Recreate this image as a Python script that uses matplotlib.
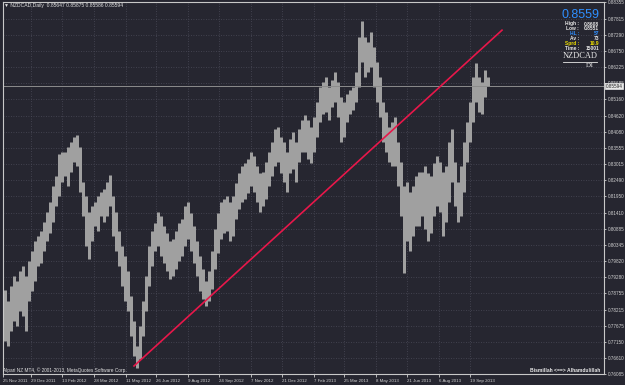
import matplotlib
matplotlib.use("Agg")
import numpy as np
import matplotlib.pyplot as plt

# NZDCAD daily, bars grouped by three (high / low)
bar_high = [
    .7885, .7849, .7898, .7931, .7915, .7948, .7964, .7931, .7981, .8014,
    .8047, .8063, .8080, .8112, .8145, .8178, .8228, .8261, .8336, .8343,
    .8343, .8359, .8376, .8392, .8399, .8359, .8244, .8195, .8145, .8162,
    .8178, .8195, .8211, .8218, .8244, .8267, .8195, .8145, .8080, .8030,
    .7997, .7948, .7865, .7783, .7701, .7767, .7849, .7931, .8030, .8080,
    .8106, .8145, .8129, .8096, .8073, .8047, .8053, .8080, .8106, .8119,
    .8162, .8178, .8139, .8096, .8047, .7997, .7954, .7915, .7948, .8014,
    .8086, .8139, .8178, .8185, .8195, .8178, .8195, .8238, .8271, .8294,
    .8304, .8317, .8343, .8327, .8294, .8271, .8277, .8310, .8343, .8376,
    .8416, .8425, .8392, .8376, .8343, .8383, .8409, .8376, .8416, .8448,
    .8465, .8448, .8425, .8458, .8508, .8557, .8574, .8590, .8557, .8580,
    .8607, .8574, .8524, .8508, .8534, .8547, .8557, .8607, .8722, .8775,
    .8722, .8705, .8738, .8689, .8640, .8590, .8508, .8475, .8425, .8442,
    .8458, .8376, .8310, .8228, .8244, .8211, .8228, .8261, .8277, .8277,
    .8294, .8271, .8261, .8304, .8327, .8310, .8277, .8294, .8376, .8419,
    .8310, .8244, .8294, .8376, .8442, .8508, .8590, .8636, .8590, .8574,
    .8613, .8588,
]
bar_low = [
    .7717, .7701, .7750, .7783, .7767, .7816, .7800, .7750, .7849, .7882,
    .7915, .7964, .7974, .8014, .8047, .8073, .8112, .8162, .8195, .8244,
    .8261, .8228, .8277, .8310, .8294, .8211, .8129, .8030, .7987, .8047,
    .8096, .8080, .8129, .8112, .8129, .8162, .8063, .8014, .7964, .7898,
    .7849, .7816, .7734, .7668, .7628, .7658, .7734, .7816, .7898, .7964,
    .8014, .8030, .7997, .7974, .7948, .7921, .7931, .7954, .7981, .7997,
    .8030, .8053, .8014, .7974, .7931, .7882, .7855, .7832, .7849, .7888,
    .7954, .8007, .8053, .8073, .8080, .8047, .8063, .8119, .8152, .8178,
    .8185, .8205, .8228, .8211, .8178, .8145, .8162, .8185, .8228, .8261,
    .8294, .8310, .8271, .8244, .8211, .8271, .8284, .8244, .8310, .8343,
    .8343, .8317, .8304, .8343, .8392, .8442, .8468, .8475, .8448, .8491,
    .8508, .8458, .8376, .8392, .8442, .8468, .8481, .8508, .8557, .8640,
    .8590, .8607, .8623, .8557, .8508, .8458, .8376, .8343, .8310, .8294,
    .8294, .8228, .8129, .7941, .8047, .8014, .8063, .8096, .8096, .8129,
    .8086, .8047, .8073, .8129, .8162, .8145, .8063, .8112, .8178, .8244,
    .8162, .8112, .8129, .8211, .8310, .8376, .8442, .8508, .8475, .8468,
    .8524, .8559,
]
bars_per_group = 3

last_price = 0.85594
trend_bar = [131, 499]
trend_price = [0.7635, 0.8744]

price_ticks = [0.88355, 0.87815, 0.87290, 0.86750, 0.86225, 0.85685, 0.85160,
               0.84620, 0.84080, 0.83555, 0.83015, 0.82490, 0.81950, 0.81410,
               0.80885, 0.80345, 0.79820, 0.79280, 0.78755, 0.78215, 0.77675,
               0.77150, 0.76610, 0.76085]
date_bars = [0, 28, 59, 91, 123, 153, 185, 216, 248, 279, 311, 341, 373, 404, 436, 467]
date_labels = ["25 Nov 2011", "29 Dec 2011", "13 Feb 2012", "28 Mar 2012",
               "11 May 2012", "26 Jun 2012", "9 Aug 2012", "24 Sep 2012",
               "7 Nov 2012", "21 Dec 2012", "7 Feb 2013", "25 Mar 2013",
               "8 May 2013", "21 Jun 2013", "6 Aug 2013", "19 Sep 2013"]

bg = "#262630"
fg = "#d0d0d0"
fam = ["Liberation Sans", "DejaVu Sans"]

W, H = 625, 385
fig = plt.figure(figsize=(W / 100, H / 100), dpi=100)
fig.patch.set_facecolor(bg)
ax = fig.add_axes([3 / W, 1 - 374 / H, 601 / W, 372 / H])
ax.set_facecolor(bg)

x = np.arange(len(bar_high)) * bars_per_group + bars_per_group / 2
ax.vlines(x, bar_low, bar_high, color="#a0a0a0", linewidth=2.16)
ax.axhline(last_price, color="#8c8c8c", linewidth=0.7)
ax.plot(trend_bar, trend_price, color="#e8174a", linewidth=1.2)

ax.set_xlim(0, 601)
ax.set_ylim(0.76085, 0.8837)

ax.set_yticks(price_ticks)
ax.set_yticklabels([f"{p:.5f}" for p in price_ticks])
ax.yaxis.tick_right()
ax.set_xticks(date_bars)
ax.set_xticklabels(date_labels, ha="left")
ax.tick_params(axis="x", colors=fg, length=2, width=0.6, pad=1.5)
ax.tick_params(axis="y", colors=fg, length=1.5, width=0.6, pad=1)
for lab in ax.get_yticklabels():
    lab.set_family(fam)
    lab.set_fontsize(3.3)
for lab in ax.get_xticklabels():
    lab.set_family(fam)
    lab.set_fontsize(3.2)
ax.grid(True, color="#4a4a58", linestyle=(0, (1, 2)), linewidth=0.6)
for s in ax.spines.values():
    s.set_color("#c8c8c8")
    s.set_linewidth(0.8)

# current price box on the axis
ax.text(1.003, last_price, f"{last_price:.5f}", transform=ax.get_yaxis_transform(),
        va="center", ha="left", fontsize=3.3, family=fam, color="#202020",
        bbox=dict(boxstyle="square,pad=0.15", fc="#e8e8e8", ec="#e8e8e8", lw=0.5),
        zorder=5, clip_on=False)

def fx(px):
    return px / W

def fy(py):
    return 1 - py / H

fig.text(fx(4), fy(5), "\u25bc NZDCAD,Daily  0.85647 0.85875 0.85586 0.85594",
         va="center", family=fam, fontsize=3.6, color="#e0e0e0")
fig.text(fx(599), fy(14.5), "0.8559", ha="right", va="center", fontsize=9,
         family=fam, color="#2f8fff")
rows = [("High :", "0.8608", "#e8e8e8"), ("Low :", "0.8551", "#e8e8e8"),
        ("HL :", "57", "#2f8fff"), ("Av :", "73", "#e8e8e8"),
        ("Sprd :", "10.9", "#f0e000"), ("Time :", "15001", "#e8e8e8")]
for i, (k, v, c) in enumerate(rows):
    yy = fy(24 + i * 4.9)
    fig.text(fx(579), yy, k, ha="right", va="center", family=fam,
             fontsize=3.5, color=c, fontweight="bold")
    fig.text(fx(599), yy, v, ha="right", va="center", family=fam,
             fontsize=3.5, color=c, fontweight="bold")
fig.text(fx(580), fy(56.5), "NZDCAD", ha="center", va="center", fontsize=6,
         family=["Liberation Serif", "DejaVu Serif"], color="#e8e8e8")
fig.add_artist(plt.Line2D([fx(563), fx(597)], [fy(61.5), fy(61.5)], color="#e8e8e8",
                          linewidth=0.6))
fig.text(fx(590), fy(65.5), "D1", ha="center", va="center", fontsize=5,
         family=["Liberation Serif", "DejaVu Serif"], color="#e8e8e8")

fig.text(fx(3), fy(370.5), "Alpari NZ MT4, \u00a9 2001-2013, MetaQuotes Software Corp.",
         va="center", family=fam, fontsize=3.4, color="#e0e0e0")
fig.text(fx(600), fy(370.5), "Bismillah <==> Alhamdulillah", ha="right", va="center",
         family=fam, fontsize=3.6, color="#e8e8e8", fontweight="bold")

fig.savefig("out.png", dpi=100, facecolor=bg)
